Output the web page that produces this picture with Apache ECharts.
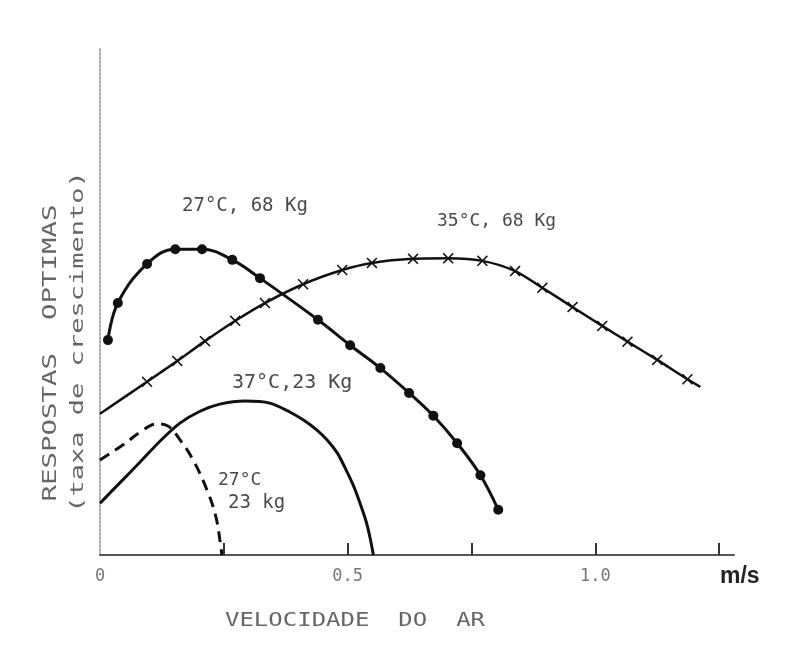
<!DOCTYPE html>
<html><head><meta charset="utf-8">
<script src="https://cdn.jsdelivr.net/npm/echarts@6/dist/echarts.min.js"></script>
<style>html,body{margin:0;padding:0;background:#fff}#c{width:806px;height:662px}</style>
</head><body><div id="c"></div>
<script>
// x ticks and labels (m/s)
const xTickValues = [0.25, 0.5, 0.75, 1.0, 1.25];
const xLabelValues = [0, 0.5, 1.0];

// 27°C, 68 Kg (solid, filled circles)
const speed27_68 = [0.016, 0.036, 0.095, 0.152, 0.206, 0.267, 0.323, 0.440, 0.505, 0.566, 0.624, 0.673, 0.721, 0.768, 0.804];
const resp27_68  = [42.3, 49.6, 57.3, 60.2, 60.2, 58.1, 54.5, 46.3, 41.3, 36.8, 31.9, 27.4, 22.0, 15.7, 8.9];

// 35°C, 68 Kg (solid, x markers)
const speed35_68 = [0, 0.095, 0.156, 0.212, 0.273, 0.333, 0.410, 0.489, 0.549, 0.632, 0.703, 0.772, 0.838, 0.893, 0.954, 1.014, 1.065, 1.125, 1.186, 1.212];
const resp35_68  = [27.8, 34.1, 38.2, 42.1, 46.1, 49.6, 53.3, 56.1, 57.5, 58.3, 58.4, 57.9, 55.9, 52.6, 48.8, 45.1, 42.0, 38.4, 34.6, 33.1];

// 37°C, 23 Kg (solid, no markers)
const speed37_23 = [0, 0.040, 0.081, 0.121, 0.162, 0.202, 0.242, 0.293, 0.343, 0.384, 0.410, 0.438, 0.459, 0.479, 0.495, 0.511, 0.525, 0.537, 0.545, 0.552];
const resp37_23  = [10.2, 14.2, 18.3, 22.4, 26.0, 28.3, 29.7, 30.3, 29.9, 28.1, 26.6, 24.6, 22.6, 20.1, 17.1, 13.8, 10.2, 6.7, 3.5, 0];

// 27°C, 23 Kg (dashed)
const speed27_23 = [0, 0.051, 0.081, 0.115, 0.137, 0.162, 0.188, 0.216, 0.234, 0.244, 0.246];
const resp27_23  = [18.7, 22.0, 24.2, 25.8, 25.4, 22.6, 18.7, 12.8, 7.5, 1.6, 0];

// text
const xTitle = 'VELOCIDADE  DO  AR';
const yTitle1 = 'RESPOSTAS  OPTIMAS';
const yTitle2 = '(taxa de crescimento)';
const unitText = 'm/s';
const labels = ['27°C, 68 Kg', '35°C, 68 Kg', '37°C,23 Kg', '27°C', '23 kg'];

function pts(xs, ys) { return xs.map((x, i) => [x, ys[i]]); }

const crossPath = 'path://M1,0 L5,4 L9,0 L10,1 L6,5 L10,9 L9,10 L5,6 L1,10 L0,9 L4,5 L0,1 Z';
const data35 = pts(speed35_68, resp35_68).map((p, i, a) =>
  (i === 0 || i === a.length - 1) ? { value: p, symbol: 'none' } : { value: p });

const mono = '"DejaVu Sans Mono", monospace';
const txtColor = '#4a4a4a';

const chart = echarts.init(document.getElementById('c'), null, { renderer: 'canvas' });
chart.setOption({
  animation: false,
  backgroundColor: '#ffffff',
  grid: { left: 100, right: 72, top: 47, bottom: 107 },
  xAxis: {
    type: 'value', min: 0, max: 1.28,
    axisLine: { show: true, lineStyle: { color: '#555', width: 2 } },
    axisTick: { show: true, inside: true, length: 12, customValues: xTickValues, lineStyle: { color: '#333', width: 2 } },
    axisLabel: { show: true, customValues: xLabelValues, margin: 13, color: '#777', fontSize: 17, fontFamily: mono,
      formatter: v => (v === 0 ? '0' : v.toFixed(1)) },
    splitLine: { show: false }
  },
  yAxis: {
    type: 'value', min: 0, max: 100,
    axisLine: { show: true, lineStyle: { color: '#aaa', width: 2, type: 'dotted' } },
    axisTick: { show: false }, axisLabel: { show: false }, splitLine: { show: false }
  },
  series: [
    { type: 'line', name: labels[0], data: pts(speed27_68, resp27_68), smooth: 0.4,
      symbol: 'circle', symbolSize: 10, lineStyle: { color: '#111', width: 3 }, itemStyle: { color: '#111' } },
    { type: 'line', name: labels[1], data: data35, smooth: 0.3,
      symbol: crossPath, symbolSize: 11, lineStyle: { color: '#111', width: 2.5 }, itemStyle: { color: '#111' } },
    { type: 'line', name: labels[2], data: pts(speed37_23, resp37_23), smooth: 0.3, showSymbol: false,
      lineStyle: { color: '#111', width: 3 } },
    { type: 'line', name: labels[3] + ' ' + labels[4], data: pts(speed27_23, resp27_23), smooth: 0.4, showSymbol: false,
      lineStyle: { color: '#111', width: 3, type: [11, 7] } }
  ],
  graphic: [
    { type: 'text', x: 182, y: 206, style: { text: labels[0], font: '19px ' + mono, fill: txtColor, textVerticalAlign: 'middle' } },
    { type: 'text', x: 437, y: 221, style: { text: labels[1], font: '18px ' + mono, fill: txtColor, textVerticalAlign: 'middle' } },
    { type: 'text', x: 232, y: 383, style: { text: labels[2], font: '20px ' + mono, fill: txtColor, textVerticalAlign: 'middle' } },
    { type: 'text', x: 218, y: 480, style: { text: labels[3], font: '18px ' + mono, fill: txtColor, textVerticalAlign: 'middle' } },
    { type: 'text', x: 228, y: 503, style: { text: labels[4], font: '19px ' + mono, fill: txtColor, textVerticalAlign: 'middle' } },
    { type: 'text', x: 720, y: 577, style: { text: unitText, font: 'bold 23px "Liberation Sans", sans-serif', fill: '#222', textVerticalAlign: 'middle' } },
    { type: 'text', x: 355, y: 621, scaleX: 1.2, style: { text: xTitle, font: '20px ' + mono, fill: '#666', textAlign: 'center', textVerticalAlign: 'middle' } },
    { type: 'text', x: 51, y: 353, rotation: Math.PI / 2, scaleX: 1.37, style: { text: yTitle1, font: '20px ' + mono, fill: '#666', textAlign: 'center', textVerticalAlign: 'middle' } },
    { type: 'text', x: 78, y: 342, rotation: Math.PI / 2, scaleX: 1.5, style: { text: yTitle2, font: '18px ' + mono, fill: '#666', textAlign: 'center', textVerticalAlign: 'middle' } }
  ]
});
</script>
</body></html>
